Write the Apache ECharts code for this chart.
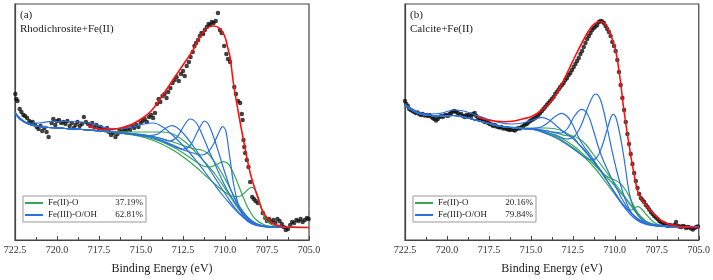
<!DOCTYPE html>
<html>
<head>
<meta charset="utf-8">
<script src="https://cdn.jsdelivr.net/npm/echarts@6/dist/echarts.min.js"></script>
<style>
  html, body { margin: 0; padding: 0; background: #fff; }
  #chart { width: 713px; height: 280px; }
</style>
</head>
<body>
<div id="chart"></div>
<script>
// binding energy (eV), intensity (arb.)  -- panel (a) Rhodichrosite+Fe(II)
const rawA = [[722.48,146],[722.42,141],[722.35,139],[722.22,131],[722.12,128],[722.0,125],[721.9,124],[721.78,122],[721.65,119],[721.55,117],[721.45,118],[721.3,115],[721.2,113],[721.1,111],[720.98,114],[720.88,109],[720.75,112],[720.62,108],[720.5,103],[720.32,117],[720.22,121],[720.1,115],[720.0,119],[719.88,120],[719.75,117],[719.62,118],[719.5,116],[719.38,119],[719.25,114],[719.12,117],[719.0,112],[718.9,115],[718.78,118],[718.65,114],[718.52,116],[718.4,123],[718.28,118],[718.15,116],[718.02,114],[717.9,117],[717.78,113],[717.65,115],[717.52,112],[717.4,113],[717.28,111],[717.15,110],[717.02,112],[716.9,108],[716.78,105],[716.65,107],[716.52,103],[716.4,106],[716.28,110],[716.15,108],[716.02,111],[715.9,109],[715.78,112],[715.65,110],[715.52,114],[715.4,112],[715.28,115],[715.15,113],[715.02,117],[714.9,119],[714.78,121],[714.65,118],[714.52,123],[714.4,125],[714.28,122],[714.17,127],[714.05,136],[713.95,141],[713.85,138],[713.72,144],[713.6,146],[713.48,142],[713.38,148],[713.25,152],[713.12,157],[713.0,160],[712.88,163],[712.75,159],[712.62,166],[712.5,169],[712.4,164],[712.28,174],[712.15,178],[712.05,183],[711.92,188],[711.82,194],[711.72,197],[711.6,200],[711.5,204],[711.4,207],[711.3,206],[711.2,210],[711.08,213],[710.98,216],[710.88,215],[710.78,218],[710.68,217],[710.55,219],[710.42,227],[710.3,210],[710.2,207],[710.05,194],[709.92,186],[709.82,181],[709.7,178],[709.45,153],[709.35,146],[709.22,139],[709.1,137],[709.0,126],[708.95,120],[708.9,100],[708.85,93],[708.8,87],[708.7,80],[708.6,73],[708.5,58],[708.38,43],[708.28,41],[708.18,39],[708.05,37],[707.75,27],[707.6,22],[707.5,19],[707.38,21],[707.25,18],[707.12,20],[707.0,17],[706.88,21],[706.75,19],[706.62,16],[706.5,13],[706.38,10],[706.25,11],[706.12,15],[706.0,18],[705.88,17],[705.75,20],[705.62,19],[705.5,21],[705.38,18],[705.25,20],[705.12,22],[705.02,21]];
const envA = [[718.2,115],[717.8,112],[717.4,111],[717.0,110.5],[716.5,111],[716.0,113],[715.5,116],[714.9,122],[714.4,129],[713.9,140],[713.5,150],[713.1,160],[712.7,170],[712.3,180],[711.9,190],[711.5,203],[711.1,211.5],[710.7,214],[710.3,211.5],[710.0,203],[709.85,193],[709.7,183],[709.5,157],[709.2,127],[708.9,100],[708.5,67],[708.1,45],[707.7,27],[707.2,17],[706.6,13.5],[706.0,12.7],[705.0,12.5]];
const blueA1 = [[722.5,128],[722.2,122],[721.7,117],[721.1,117],[720.5,118.3],[719.5,118.5],[718.5,118],[717.7,115],[716.9,111.7],[716.2,111.5],[715.5,113],[714.8,116],[714.27,117],[713.7,113],[713.2,106],[712.7,98],[712.2,89],[711.7,79],[711.2,68],[710.7,57],[710.2,46],[709.7,36],[709.2,27],[708.7,20],[708.2,15.5],[707.6,13.2],[706.8,12.6],[705.0,12.5]];
const blueA2 = [[722.5,127],[722.2,121],[721.7,116],[721.1,113.5],[720.5,112.5],[719.5,111.5],[718.5,110.5],[717.5,109],[716.5,107.5],[715.5,106],[714.5,104.5],[714.0,106],[713.6,111],[713.17,114.3],[712.75,111],[712.3,103],[711.85,93],[711.4,82],[710.9,70],[710.4,57],[709.9,44],[709.4,32],[708.9,23],[708.4,17],[707.8,14],[707.0,12.7],[706.0,12.5],[705.0,12.5]];
const blueA3 = [[722.5,127],[722.2,121],[721.7,116],[721.1,113.5],[720.5,112.5],[719.5,111.5],[718.5,110.5],[717.5,109],[716.5,107.5],[715.5,106],[714.5,104],[713.9,102],[713.3,99],[712.85,103],[712.45,114],[712.08,121],[711.7,117],[711.35,105],[711.0,91],[710.6,76],[710.2,61],[709.8,48],[709.3,35],[708.8,24],[708.3,17.5],[707.7,14],[706.9,12.8],[706.0,12.5],[705.0,12.5]];
const blueA4 = [[722.5,127],[722.2,121],[721.7,116],[721.1,113.5],[720.5,112.5],[719.5,111.5],[718.5,110.5],[717.5,109],[716.5,107.5],[715.5,105.5],[714.5,103.5],[713.8,100],[713.1,95],[712.5,91],[712.05,95],[711.65,108],[711.35,117],[711.23,119],[711.0,116],[710.7,104],[710.35,86],[710.0,67],[709.65,50],[709.3,37],[708.9,27],[708.4,19],[707.9,15],[707.2,13],[706.3,12.5],[705.0,12.5]];
const blueA5 = [[722.5,127],[722.2,121],[721.7,116],[721.1,113.5],[720.5,112.5],[719.5,111.5],[718.5,110.5],[717.5,109],[716.5,107.5],[715.5,105.5],[714.5,103],[713.8,99],[713.1,94],[712.5,90],[711.9,87],[711.4,85],[711.0,88],[710.65,97],[710.35,108],[710.14,113.3],[709.95,109],[709.8,93],[709.65,75],[709.5,57],[709.3,41],[709.1,30],[708.8,21],[708.4,16],[707.8,13.5],[707.0,12.7],[706.0,12.5],[705.0,12.5]];
const greenA1 = [[722.5,127],[722.2,121],[721.7,116],[721.1,113.5],[720.5,112.5],[719.5,111.5],[718.5,110.5],[717.5,109.5],[716.5,108.5],[715.5,108],[714.5,108],[713.7,108],[713.1,106],[712.6,101],[712.1,94],[711.6,85],[711.1,76],[710.6,66],[710.1,54],[709.6,41],[709.1,29],[708.6,20],[708.1,15.5],[707.5,13.3],[706.6,12.6],[705.0,12.5]];
const greenA2 = [[722.5,127],[722.2,121],[721.7,116],[721.1,113.5],[720.5,112.5],[719.5,111.5],[718.5,110.5],[717.5,109],[716.5,107.5],[715.5,106.5],[714.7,105],[713.9,102],[713.1,98],[712.4,94],[711.8,91],[711.4,90],[711.05,87],[710.7,80],[710.3,70],[709.9,58],[709.5,45],[709.1,33],[708.6,22],[708.1,16],[707.5,13.5],[706.6,12.6],[705.0,12.5]];
const greenA3 = [[722.5,127],[722.2,121],[721.7,116],[721.1,113.5],[720.5,112.5],[719.5,111.5],[718.5,110.5],[717.5,109],[716.5,107.5],[715.5,105.5],[714.7,103],[713.9,99],[713.1,93],[712.4,86],[711.8,79],[711.3,74],[710.9,73],[710.5,75.5],[710.1,78.3],[709.8,76],[709.5,67],[709.2,55],[708.9,42],[708.6,31],[708.2,21],[707.7,15.5],[707.1,13.3],[706.3,12.6],[705.0,12.5]];
const greenA4 = [[722.5,127],[722.2,121],[721.7,116],[721.1,113.5],[720.5,112.5],[719.5,111.5],[718.5,110.5],[717.5,109],[716.5,107.5],[715.5,105],[714.7,102],[713.9,97],[713.1,90],[712.4,82],[711.8,74],[711.2,65],[710.6,56],[710.1,49],[709.6,44],[709.2,43.5],[708.85,47],[708.6,51],[708.41,52.7],[708.2,50],[708.0,42],[707.8,30],[707.6,21],[707.3,16],[706.9,13.5],[706.3,12.7],[705.0,12.5]];

// panel (b) Calcite+Fe(II)
const rawB = [[722.5,139],[722.42,136],[722.33,134],[722.25,131],[722.15,130],[722.05,129],[721.95,128],[721.85,127],[721.75,127.5],[721.65,126],[721.55,125],[721.45,126],[721.35,124.5],[721.25,125],[721.15,124],[721.05,125],[720.95,123.5],[720.85,122],[720.75,121],[720.65,119.5],[720.55,121],[720.45,123],[720.35,124],[720.25,123],[720.15,124.5],[720.05,125],[719.95,124],[719.85,126],[719.75,127],[719.65,128.5],[719.55,129],[719.45,128],[719.35,127],[719.25,125],[719.15,126],[719.05,124],[718.95,123],[718.85,125],[718.75,124],[718.65,125.5],[718.55,124],[718.45,126],[718.35,127],[718.25,124],[718.15,121],[718.05,120],[717.95,121],[717.85,119],[717.75,118],[717.65,118.5],[717.55,117],[717.45,116],[717.35,115.5],[717.25,114],[717.15,115],[717.05,113.5],[716.95,113],[716.85,112.5],[716.75,113],[716.65,111.5],[716.55,112],[716.45,111],[716.35,110.5],[716.25,110],[716.15,111],[716.05,110],[715.95,109.5],[715.85,111],[715.75,112],[715.65,111.5],[715.55,113],[715.45,114],[715.35,115.5],[715.25,116],[715.15,117.5],[715.05,119],[714.95,120],[714.85,121],[714.75,122],[714.65,123.5],[714.55,125],[714.45,127],[714.35,129],[714.25,131],[714.15,133],[714.05,135],[713.95,137],[713.85,139],[713.75,141],[713.65,143],[713.55,146],[713.45,148],[713.35,150.5],[713.25,153],[713.15,155],[713.05,157],[712.95,160],[712.85,162],[712.75,165],[712.65,167],[712.55,170],[712.45,173],[712.35,176],[712.25,179],[712.15,182],[712.05,186],[711.95,189],[711.85,193],[711.75,197],[711.65,201],[711.55,204],[711.45,207],[711.35,210],[711.25,212],[711.15,213.5],[711.05,215],[710.95,218],[710.85,219],[710.75,218.5],[710.65,217],[710.55,214],[710.45,211],[710.35,208],[710.25,204],[710.15,198],[710.05,194],[709.95,189],[709.85,180],[709.75,168],[709.65,155],[709.55,142],[709.45,130],[709.35,118],[709.25,106],[709.15,96],[709.05,86],[708.95,76],[708.85,67],[708.75,59],[708.65,52],[708.55,46],[708.45,42],[708.35,40],[708.25,38],[708.15,35],[708.05,33],[707.95,30.5],[707.85,28],[707.75,26],[707.65,24],[707.55,22.5],[707.45,21],[707.35,19],[707.25,18],[707.15,17],[707.05,16.5],[706.95,15.5],[706.85,14],[706.75,15],[706.65,14.5],[706.45,15],[706.35,18],[706.25,14],[706.15,13.5],[706.05,13],[705.95,14],[705.85,13.5],[705.75,12],[705.65,13],[705.55,12.5],[705.45,11.5],[705.35,10.5],[705.25,12],[705.15,13],[705.05,13.5]];
const envB = [[718.2,123],[717.7,120.5],[717.2,119],[716.6,118.3],[716.0,119],[715.5,121],[714.96,123.5],[714.5,128],[714.0,135],[713.6,143],[713.1,158],[712.7,172],[712.3,186],[711.9,199],[711.6,208],[711.3,215],[710.9,218.5],[710.6,216.5],[710.3,207],[710.0,193],[709.85,180],[709.7,163],[709.46,130],[709.2,100],[708.9,70],[708.6,47],[708.2,36],[707.7,26.5],[707.1,18],[706.3,14],[705.6,12.7],[705.0,12.3]];
const blueB1 = [[722.5,136],[722.1,131],[721.6,127],[721.0,126],[720.3,127],[719.6,130],[719.0,129],[718.3,125],[717.6,121],[716.9,117.5],[716.2,116],[715.5,117],[714.9,120],[714.37,122.7],[713.9,120],[713.4,113],[712.9,106],[712.5,101.5],[712.1,95],[711.7,88],[711.3,79],[710.9,70],[710.5,60],[710.1,50],[709.7,40],[709.3,31.5],[708.9,25],[708.5,20],[708.1,17],[707.7,15.5],[706.9,14],[706.0,13.3],[705.0,13]];
const blueB2 = [[722.5,135],[722.1,130],[721.6,126],[721.0,124.5],[720.3,124],[719.6,124.5],[719.0,123],[718.3,120],[717.6,117],[716.9,114],[716.2,112.5],[715.5,111.5],[714.9,111.5],[714.4,113],[714.0,117],[713.6,123],[713.17,126.7],[712.8,123],[712.5,115],[712.2,104],[711.9,95],[711.5,86],[711.1,76],[710.7,66],[710.3,55],[709.9,44],[709.5,34],[709.1,26],[708.7,20],[708.3,16.5],[707.8,14.5],[707.0,13.5],[706.0,13.1],[705.0,13]];
const blueB3 = [[722.5,135],[722.1,130],[721.6,126],[721.0,124.5],[720.3,124],[719.6,124.5],[719.0,123],[718.3,120],[717.6,117],[716.9,114],[716.2,112.5],[715.5,111.5],[714.9,111],[714.3,110],[713.7,108],[713.2,107],[712.8,112],[712.4,124],[711.98,130.7],[711.6,125],[711.3,111],[711.0,94],[710.7,80],[710.35,67],[710.0,55],[709.6,42],[709.2,31],[708.8,23],[708.4,18],[707.9,15],[707.2,13.6],[706.2,13.1],[705.0,13]];
const blueB4 = [[722.5,135],[722.1,130],[721.6,126],[721.0,124.5],[720.3,124],[719.6,124.5],[719.0,123],[718.3,120],[717.6,117],[716.9,114],[716.2,112.5],[715.5,111.5],[714.9,111],[714.2,108.5],[713.5,105],[712.9,101],[712.4,104],[712.0,115],[711.6,133],[711.3,144],[711.13,146],[710.9,142],[710.65,128],[710.4,108],[710.15,88],[709.9,70],[709.6,52],[709.3,37],[709.0,27],[708.6,20],[708.2,16.5],[707.6,14.3],[706.8,13.4],[705.8,13.1],[705.0,13]];
const blueB5 = [[722.5,135],[722.1,130],[721.6,126],[721.0,124.5],[720.3,124],[719.6,124.5],[719.0,123],[718.3,120],[717.6,117],[716.9,114],[716.2,112.5],[715.5,111],[714.9,110.5],[714.2,107],[713.5,102],[712.9,96],[712.3,89],[711.8,83],[711.4,80],[711.1,82],[710.8,92],[710.5,108],[710.25,122],[710.1,125.7],[709.95,123],[709.75,110],[709.55,92],[709.4,76],[709.25,58],[709.1,44],[708.9,33],[708.6,24],[708.2,18],[707.7,15],[707.0,13.8],[706.0,13.2],[705.0,13]];
const greenB1 = [[722.5,135],[722.1,130],[721.6,126],[721.0,124.5],[720.3,124],[719.6,124.5],[719.0,123],[718.3,120],[717.6,117],[716.9,114],[716.2,113],[715.5,112],[714.9,112],[714.2,112],[713.5,111],[713.0,108],[712.5,103],[712.1,95],[711.7,87],[711.3,79],[710.9,71],[710.5,63],[710.1,56],[709.7,48],[709.3,40],[708.9,31],[708.5,23],[708.1,18],[707.6,15],[706.8,13.5],[706.0,13.1],[705.0,13]];
const greenB2 = [[722.5,135],[722.1,130],[721.6,126],[721.0,124.5],[720.3,124],[719.6,124.5],[719.0,123],[718.3,120],[717.6,117],[716.9,114],[716.2,112.5],[715.5,111.5],[714.9,111],[714.2,109.5],[713.5,107],[712.9,104.5],[712.5,104],[712.1,101],[711.7,95],[711.3,86],[710.9,77],[710.5,68],[710.1,59],[709.7,50],[709.3,41],[708.9,32],[708.5,24],[708.1,18.5],[707.6,15.3],[706.8,13.6],[706.0,13.1],[705.0,13]];
const greenB3 = [[722.5,135],[722.1,130],[721.6,126],[721.0,124.5],[720.3,124],[719.6,124.5],[719.0,123],[718.3,120],[717.6,117],[716.9,114],[716.2,112.5],[715.5,111.5],[714.9,111],[714.2,108],[713.5,104],[712.9,99],[712.3,92],[711.7,83],[711.2,75],[710.8,68],[710.4,63],[710.0,60],[709.7,57],[709.4,51],[709.1,42],[708.8,32],[708.5,24],[708.1,18],[707.6,15],[706.8,13.5],[706.0,13.1],[705.0,13]];
const greenB4 = [[722.5,135],[722.1,130],[721.6,126],[721.0,124.5],[720.3,124],[719.6,124.5],[719.0,123],[718.3,120],[717.6,117],[716.9,114],[716.2,112.5],[715.5,111.5],[714.9,111],[714.2,107.5],[713.5,103],[712.9,97],[712.3,90],[711.7,81],[711.1,70],[710.6,59],[710.1,48],[709.7,39],[709.3,31],[709.0,30],[708.8,32.5],[708.6,33.3],[708.4,31],[708.1,25],[707.8,19.5],[707.5,16],[707.0,14],[706.3,13.2],[705.0,13]];

const tickLabels = ['705.0','707.5','710.0','712.5','715.0','717.5','720.0','722.5'];
const legendNames = ['Fe(II)-O', 'Fe(III)-O/OH'];
const pctA = ['37.19%', '62.81%'];
const pctB = ['20.16%', '79.84%'];
const panelTags = ['(a)', '(b)'];
const panelNames = ['Rhodichrosite+Fe(II)', 'Calcite+Fe(II)'];

const SERIF = '"Liberation Serif", "DejaVu Serif", serif';
const BLUE = '#2b6fe0';
const GREEN = '#34a853';
const RED = '#ff1010';

const chart = echarts.init(document.getElementById('chart'));

function xAxisFor(i) {
  return {
    type: 'value', gridIndex: i, min: 705, max: 722.5, interval: 2.5, inverse: true,
    name: 'Binding Energy (eV)', nameLocation: 'middle', nameGap: 23,
    nameTextStyle: { fontFamily: SERIF, fontSize: 12, color: '#222' },
    axisLine: { lineStyle: { color: '#444', width: 1.2 } },
    axisTick: { inside: true, length: 4, lineStyle: { color: '#444' } },
    minorTick: { show: true, splitNumber: 2, length: 3, lineStyle: { color: '#444' } },
    axisLabel: {
      margin: 5, fontFamily: SERIF, fontSize: 10, color: '#333',
      formatter: v => tickLabels.find(t => Math.abs(parseFloat(t) - v) < 1e-6) || ''
    },
    splitLine: { show: false }
  };
}
function yAxisFor(i) {
  return {
    type: 'value', gridIndex: i, min: 0, max: 236,
    axisLine: { show: true, lineStyle: { color: '#444', width: 1.2 } },
    axisTick: { show: false }, axisLabel: { show: false }, splitLine: { show: false }
  };
}
function line(data, i, color, name, width) {
  return {
    type: 'line', name, data, xAxisIndex: i, yAxisIndex: i,
    symbol: 'none', smooth: 0.35, silent: true,
    lineStyle: { color, width: width || 1.2 }, itemStyle: { color }
  };
}
function legendFor(left, pct) {
  return {
    left, top: 196, orient: 'vertical', selectedMode: false,
    data: legendNames, icon: 'rect', itemWidth: 18, itemHeight: 2, itemGap: 2,
    padding: [2, 3, 2, 2], borderColor: '#999', borderWidth: 1,
    textStyle: {
      fontFamily: SERIF, fontSize: 9, color: '#222', lineHeight: 10,
      rich: {
        n: { width: 62, fontFamily: SERIF, fontSize: 9, color: '#222' },
        p: { width: 33, align: 'right', fontFamily: SERIF, fontSize: 9, color: '#222' }
      }
    },
    formatter: name => '{n|' + name + '}{p|' + pct[legendNames.indexOf(name)] + '}'
  };
}
function titleAt(text, left, top) {
  return { text, left, top, padding: 0,
    textStyle: { fontFamily: SERIF, fontSize: 11, fontWeight: 'normal', color: '#222' } };
}

const compsA = [
  [greenA1, GREEN, legendNames[0]], [greenA2, GREEN, legendNames[0]], [greenA3, GREEN, legendNames[0]], [greenA4, GREEN, legendNames[0]],
  [blueA1, BLUE, legendNames[1]], [blueA2, BLUE, legendNames[1]], [blueA3, BLUE, legendNames[1]], [blueA4, BLUE, legendNames[1]], [blueA5, BLUE, legendNames[1]]
];
const compsB = [
  [greenB1, GREEN, legendNames[0]], [greenB2, GREEN, legendNames[0]], [greenB3, GREEN, legendNames[0]], [greenB4, GREEN, legendNames[0]],
  [blueB1, BLUE, legendNames[1]], [blueB2, BLUE, legendNames[1]], [blueB3, BLUE, legendNames[1]], [blueB4, BLUE, legendNames[1]], [blueB5, BLUE, legendNames[1]]
];

const series = [];
compsA.forEach(c => series.push(line(c[0], 0, c[1], c[2])));
series.push(line(envA, 0, RED, 'fit', 1.6));
series.push({ type: 'scatter', name: 'raw', data: rawA, xAxisIndex: 0, yAxisIndex: 0,
  symbolSize: 4.5, itemStyle: { color: '#111' }, silent: true });
compsB.forEach(c => series.push(line(c[0], 1, c[1], c[2])));
series.push(line(envB, 1, RED, 'fit', 1.6));
series.push({ type: 'scatter', name: 'raw', data: rawB, xAxisIndex: 1, yAxisIndex: 1,
  symbolSize: 4.5, itemStyle: { color: '#111' }, silent: true });

chart.setOption({
  animation: false,
  backgroundColor: '#fff',
  title: [
    titleAt(panelTags[0], 20, 10), titleAt(panelNames[0], 20, 24),
    titleAt(panelTags[1], 410, 10), titleAt(panelNames[1], 410, 24)
  ],
  grid: [
    { left: 15, top: 4, width: 294, height: 236, show: true, borderColor: '#444', borderWidth: 1.2 },
    { left: 405, top: 4, width: 294, height: 236, show: true, borderColor: '#444', borderWidth: 1.2 }
  ],
  xAxis: [xAxisFor(0), xAxisFor(1)],
  yAxis: [yAxisFor(0), yAxisFor(1)],
  legend: [legendFor(23, pctA), legendFor(413, pctB)],
  series
});
</script>
</body>
</html>
